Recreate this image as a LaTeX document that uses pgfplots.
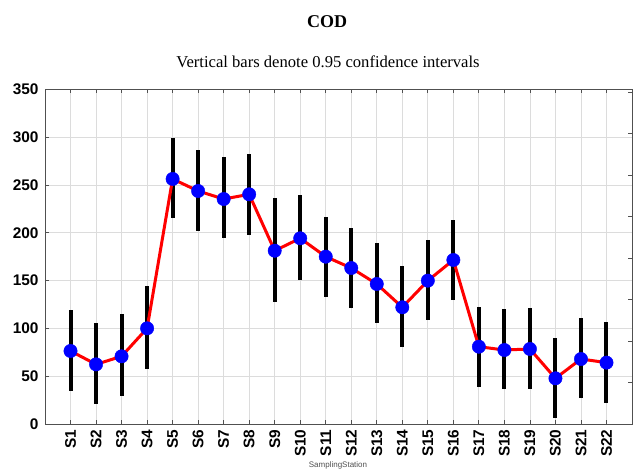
\documentclass[border=0pt]{standalone}
\usepackage{fontspec}
\setmainfont{Liberation Serif}
\setsansfont{Liberation Sans}
\usepackage{pgfplots}
\pgfplotsset{compat=1.18}

\definecolor{gridgray}{RGB}{220,220,220}
\definecolor{axisgray}{RGB}{80,80,80}

\pgfplotstableread{
x   y      ep    em
1   76.4   42.9  41.6
2   62.4   43.0  41.5
3   70.8   44.0  41.5
4   100.1  44.6  42.2
5   256.4  43.2  41.2
6   243.8  42.5  42.2
7   235.4  43.6  40.8
8   240.3  42.2  42.9
9   181.3  54.8  54.0
10  194.3  45.3  43.6
11  175.1  41.8  42.5
12  163.2  41.5  41.5
13  146.5  42.6  41.1
14  122.1  43.2  41.8
15  150.0  42.5  41.2
16  171.6  41.9  41.9
17  80.9   41.8  41.9
18  77.4   42.6  41.1
19  78.5   42.5  41.9
20  47.8   42.5  41.2
21  68.0   42.6  40.5
22  64.2   42.5  41.9
}\cod

\begin{document}
\begin{tikzpicture}
\useasboundingbox (0,0) rectangle (633bp,474bp);
\fill[white] (0,0) rectangle (633bp,474bp);

% titles
\node[font=\fontsize{18bp}{20bp}\selectfont\bfseries, anchor=base] at (327bp,446bp) {COD};
\node[font=\fontsize{16.6bp}{19bp}\selectfont, anchor=base] at (328bp,406bp) {Vertical bars denote 0.95 confidence intervals};

\begin{axis}[
    at={(45bp,50bp)},
    anchor=south west,
    scale only axis,
    width=587bp,
    height=334.5bp,
    xmin=0, xmax=23,
    ymin=0, ymax=350,
    xtick={1,...,22},
    xticklabels={S1,S2,S3,S4,S5,S6,S7,S8,S9,S10,S11,S12,S13,S14,S15,S16,S17,S18,S19,S20,S21,S22},
    ytick={0,50,...,350},
    ytick pos=left,
    grid=major,
    major grid style={gridgray, line width=0.8bp},
    axis line style={axisgray, line width=1bp},
    major tick length=4bp,
    tick style={axisgray, line width=0.8bp},
    /pgf/number format/assume math mode=true,
    tick label style={font=\sffamily\bfseries\fontsize{15.4bp}{17bp}\selectfont},
    x tick label style={rotate=90, anchor=east},
    xticklabel shift=2bp,
    yticklabel shift=3bp,
    clip=false,
]
% confidence intervals
\addplot[draw=none, mark=none, forget plot,
    error bars/.cd, y dir=both, y explicit, error mark=none,
    error bar style={draw=black, line width=4bp, solid}]
    table[x=x, y=y, y error plus=ep, y error minus=em] {\cod};
% means
\addplot[only marks, mark=*, mark size=6.7bp, mark options={draw=blue, fill=blue}]
    table[x=x, y=y] {\cod};
% connecting line
\addplot[red, line width=3bp, mark=none, line join=round]
    table[x=x, y=y] {\cod};
\end{axis}

% right-hand secondary ticks
\begin{axis}[
    at={(45bp,50bp)},
    anchor=south west,
    scale only axis,
    width=587bp,
    height=334.5bp,
    xmin=0, xmax=23, ymin=0, ymax=8.06,
    axis x line=none,
    axis y line*=right,
    ytick={1,...,8},
    yticklabels={},
    axis line style={draw=none},
    major tick length=4bp,
    tick style={axisgray, line width=0.8bp},
]
\addplot[draw=none] coordinates {(0,0)};
\end{axis}

\node[font=\sffamily\fontsize{8bp}{9bp}\selectfont, text=axisgray, anchor=south] at (338bp,1bp) {SamplingStation};
\end{tikzpicture}
\end{document}
